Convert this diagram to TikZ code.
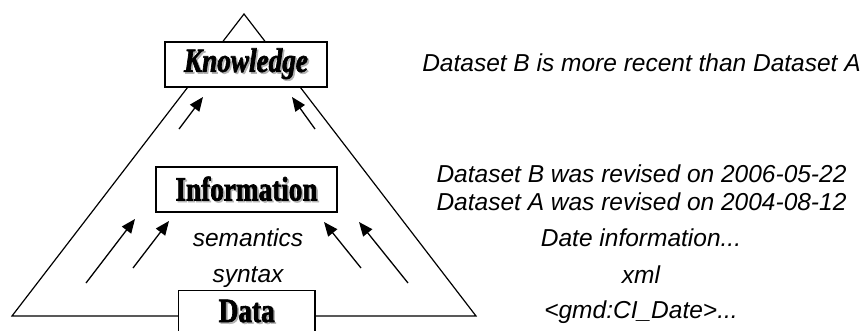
\documentclass[tikz,border=0pt]{standalone}
\usepackage{fontspec}
\setmainfont{Liberation Sans}
\newfontfamily\boxfont{Liberation Serif}[FakeStretch=0.8, BoldFeatures={FakeBold=2}, BoldItalicFeatures={FakeBold=2}]
\usetikzlibrary{arrows.meta}
\newcommand{\shadowed}[1]{\makebox[0pt][l]{\hspace{1.6pt}\raisebox{-1.6pt}{\color{gray!60}#1}}#1}
\tikzset{
  levelbox/.style={draw, fill=white, line width=1.2pt, inner sep=0pt},
  lvltext/.style={font=\fontsize{34}{36}\selectfont\boxfont\bfseries, inner sep=0pt},
  note/.style={font=\fontsize{24.5}{28}\selectfont\itshape, inner sep=0pt},
  uparrow/.style={line width=1.3pt, -{Triangle[length=14pt,width=11.5pt]}},
}
\begin{document}
\begin{tikzpicture}[x=1pt,y=-1pt]
\clip (0,0) rectangle (867,330);
\fill[white] (0,0) rectangle (867,330);
% triangle
\coordinate (apex) at (244,14);
\coordinate (bl) at (12,316);
\coordinate (br) at (476,316);
\draw[line width=1.2pt, line join=miter] (bl) -- (apex) -- (br) -- cycle;
% boxes
\node[levelbox, minimum width=162pt, minimum height=45pt] (know) at (246,64.5) {};
\node[lvltext] (knowt) at (know.center) {\shadowed{\itshape Knowledge}};
\node[levelbox, minimum width=181pt, minimum height=45pt] (info) at (246.5,189.5) {};
\node[lvltext] (infot) at (info.center) {\shadowed{Information}};
\node[levelbox, minimum width=136.5pt, minimum height=60pt] (data) at (246.75,320.7) {};
\node[lvltext, anchor=base] (datat) at (246.75,322) {\shadowed{Data}};
% labels inside
\node[note] (sem) at (248,238) {semantics};
\node[note] (syn) at (248,277) {syntax};
% arrows
\coordinate (a1s) at (179,129); \coordinate (a1e) at (203,97);
\coordinate (a2s) at (315,129); \coordinate (a2e) at (292,97);
\coordinate (a3s) at (86,283);  \coordinate (a3e) at (135,219);
\coordinate (a4s) at (133,268); \coordinate (a4e) at (169,221);
\coordinate (a5s) at (361,268); \coordinate (a5e) at (324,222);
\coordinate (a6s) at (408,283); \coordinate (a6e) at (359,222);
\draw[uparrow] (a1s) -- (a1e);
\draw[uparrow] (a2s) -- (a2e);
\draw[uparrow] (a3s) -- (a3e);
\draw[uparrow] (a4s) -- (a4e);
\draw[uparrow] (a5s) -- (a5e);
\draw[uparrow] (a6s) -- (a6e);
% right-hand notes
\node[note] (n1) at (641.5,63) {Dataset B is more recent than Dataset A};
\node[note] (n2) at (641.5,174) {Dataset B was revised on 2006-05-22};
\node[note] (n3) at (641.5,202) {Dataset A was revised on 2004-08-12};
\node[note] (n4) at (641,238) {Date information...};
\node[note] (n5) at (641,275) {xml};
\node[note] (n6) at (641,312) {<gmd:CI\_Date>...};
\end{tikzpicture}
\end{document}
